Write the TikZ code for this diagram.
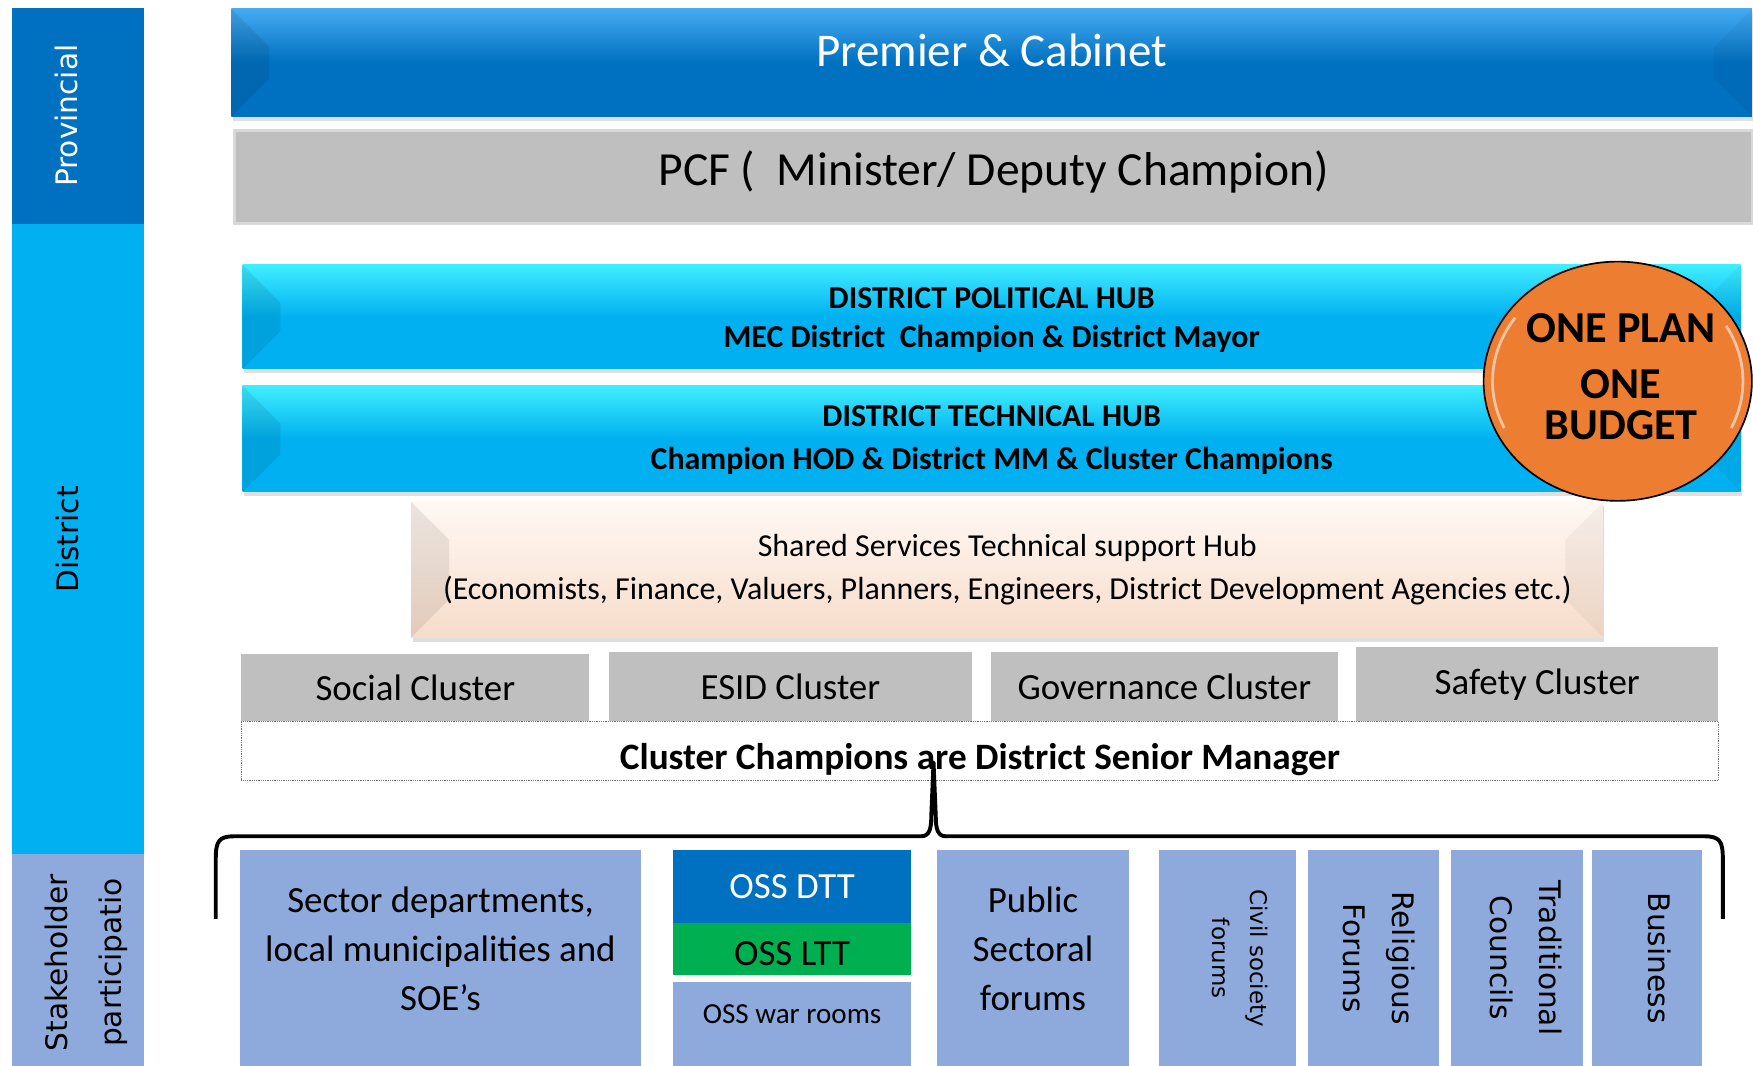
\documentclass[tikz,border=0pt]{standalone}
\usepackage{fontspec}
\setmainfont{Carlito}
\newfontfamily\vertfont{DejaVu Sans}
\usetikzlibrary{shapes.geometric,shadows,calc}

\definecolor{provblue}{HTML}{0070C0}
\definecolor{premtop}{HTML}{45ABF2}
\definecolor{distblue}{HTML}{00B0F0}
\definecolor{hubtop}{HTML}{40EEFF}
\definecolor{stakeblue}{HTML}{8EA9DB}
\definecolor{clgray}{HTML}{BFBFBF}
\definecolor{pcfedge}{HTML}{D9D9D9}
\definecolor{peach}{HTML}{F6DCCA}
\definecolor{peachtop}{HTML}{FFF8F3}
\definecolor{oporange}{HTML}{ED7D31}
\definecolor{lttgreen}{HTML}{00B050}

\newcommand{\fsz}[2]{\fontsize{#1pt}{#2pt}\selectfont}

\begin{document}
\begin{tikzpicture}[x=1pt,y=-1pt]
\tikzstyle{every node}+=[inner sep=0pt]
\tikzstyle{box}=[rectangle,anchor=center]
\tikzstyle{bar}=[box,drop shadow={shadow xshift=1pt,shadow yshift=-4pt,opacity=.25}]
\tikzstyle{side}=[rotate=90,font=\vertfont\fsz{26.5}{48},align=center]
\tikzstyle{cluster}=[box,fill=clgray,font=\fsz{33}{40}]
\tikzstyle{stake}=[box,fill=stakeblue]
\tikzstyle{forum}=[rotate=-90,font=\vertfont\fsz{26.5}{44},align=center]
\tikzstyle{txt}=[align=center]
\tikzstyle{brace}=[line width=3.5pt,line join=round]

\useasboundingbox (0,0) rectangle (1568,953);
\clip (0,0) rectangle (1568,953);

% left column
\node[box,fill=provblue,minimum width=118pt,minimum height=193pt] (prov) at (70,103.5) {};
\node[box,fill=distblue,minimum width=118pt,minimum height=565pt] (dist) at (70,482.5) {};
\node[box,fill=stakeblue,minimum width=118pt,minimum height=190pt] (stakecol) at (70,859) {};
\node[side,text=white] (provtxt) at ([xshift=-11pt]prov.center) {Provincial};
\node[side] (disttxt) at ([xshift=-10pt]dist.center) {District};
\node[side] (staketxt) at ([xshift=7pt,yshift=-2pt]stakecol.center) {Stakeholder\\participatio};

% provincial level
\node[bar,top color=premtop,bottom color=provblue,middle color=provblue,minimum width=1360pt,minimum height=96pt] (premier) at (887,56) {};
\node[box,fill=clgray,draw=pcfedge,line width=3pt,minimum width=1358pt,minimum height=83pt] (pcf) at (889,158.5) {};

% district hubs
\node[bar,top color=hubtop,bottom color=distblue,middle color=distblue,minimum width=1340pt,minimum height=93pt] (polhub) at (887,283.5) {};
\node[bar,top color=hubtop,bottom color=distblue,middle color=distblue,minimum width=1340pt,minimum height=95pt] (techhub) at (887,392.5) {};
\node[bar,top color=peachtop,bottom color=peach,minimum width=1066pt,minimum height=121pt,font=\fsz{28.6}{39},align=center] (shared) at (901,509.5) {Shared Services Technical support Hub\\(Economists, Finance, Valuers, Planners, Engineers, District Development Agencies etc.)};
\foreach \b in {premier,polhub,techhub,shared}{
  \fill[black,opacity=.08] (\b.north west) -- ++(34,34) -- ($(\b.south west)+(34,-34)$) -- (\b.south west) -- cycle;
  \fill[black,opacity=.04] (\b.north east) -- ++(-34,34) -- ($(\b.south east)+(-34,-34)$) -- (\b.south east) -- cycle;
}

\node[txt,text=white,font=\fsz{42}{50}] (premtxt) at ([yshift=11pt]premier.center) {Premier \& Cabinet};
\node[txt,font=\fsz{42.5}{50}] (pcftxt) at ([yshift=4.5pt]pcf.center) {PCF (\ \ Minister/ Deputy Champion)};
\node[txt,font=\bfseries\fsz{28.5}{35}] (poltxt) at ([yshift=-3pt]polhub.center) {DISTRICT POLITICAL HUB\\MEC District\ \ Champion \& District Mayor};
\node[txt,font=\bfseries\fsz{28.5}{38}] (techtxt) at ([yshift=-1pt]techhub.center) {DISTRICT TECHNICAL HUB\\Champion HOD \& District MM \& Cluster Champions};

\node[ellipse,draw=black,line width=1.5pt,fill=oporange,minimum width=240pt,minimum height=214pt] (oneplan) at (1447,341) {};
\draw[white,opacity=.55,line width=2.5pt] ($(oneplan.center)+(155:112 and 99)$) arc[start angle=155,end angle=215,x radius=112,y radius=99];
\draw[white,opacity=.55,line width=2.5pt] ($(oneplan.center)+(-30:112 and 99)$) arc[start angle=-30,end angle=25,x radius=112,y radius=99];
\node[txt,font=\bfseries\fsz{39.5}{37}] (oneplantxt) at ([xshift=3pt,yshift=4pt]oneplan.center) {ONE PLAN\\[13pt]ONE\\BUDGET};

% clusters
\node[cluster,minimum width=311pt,minimum height=60pt] (social) at (371.5,615) {Social Cluster};
\node[cluster,minimum width=324pt,minimum height=62pt] (esid) at (707,614) {ESID Cluster};
\node[cluster,minimum width=311pt,minimum height=62pt] (gov) at (1041.5,614) {Governance Cluster};
\node[cluster,minimum width=324pt,minimum height=66pt] (safety) at (1375,612) {Safety Cluster};
\node[box,fill=white,draw=black!55,densely dotted,line width=.6pt,minimum width=1321pt,minimum height=53pt] (champ) at (876.5,671.5) {};
\node[txt,font=\bfseries\fsz{33.3}{38}] (champtxt) at ([yshift=-7.5pt]champ.center) {Cluster Champions are District Senior Manager};

% brace
\coordinate (braceL) at (193,822);
\coordinate (braceR) at (1541,822);
\coordinate (tip) at (835,682);
\draw[brace] (braceL) -- (193,768) .. controls (193,752) and (196,748) .. (210,748)
  -- (824,748) .. controls (831,748) and (833,742) .. (833,730) -- (tip)
  -- (837,730) .. controls (837,742) and (839,748) .. (846,748)
  -- (1524,748) .. controls (1538,748) and (1541,752) .. (1541,768) -- (braceR);

% stakeholders
\node[stake,minimum width=358pt,minimum height=194pt] (sector) at (394,857) {};
\node[txt,font=\fsz{33}{44}] (sectortxt) at ([yshift=8.5pt]sector.center) {Sector departments,\\local municipalities and\\SOE’s};
\node[box,fill=provblue,text=white,minimum width=213pt,minimum height=66pt,font=\fsz{33}{40}] (dtt) at (708.5,793) {OSS DTT};
\node[box,fill=lttgreen,minimum width=213pt,minimum height=46pt] (ltt) at (708.5,849) {};
\node[txt,font=\fsz{33}{40}] (ltttxt) at ([yshift=-4pt]ltt.center) {OSS LTT};
\node[stake,minimum width=213pt,minimum height=76pt] (war) at (708.5,916) {};
\node[txt,font=\fsz{26}{30}] (wartxt) at ([yshift=9pt]war.center) {OSS war rooms};
\node[stake,minimum width=172pt,minimum height=194pt] (public) at (924,857) {};
\node[txt,font=\fsz{33}{44}] (publictxt) at ([yshift=8.5pt]public.center) {Public\\Sectoral\\forums};
\node[stake,minimum width=122pt,minimum height=194pt] (civil) at (1098,857) {};
\node[stake,minimum width=117pt,minimum height=194pt] (relig) at (1228.5,857) {};
\node[stake,minimum width=118pt,minimum height=194pt] (trad) at (1357,857) {};
\node[stake,minimum width=98pt,minimum height=194pt] (bus) at (1473,857) {};
\node[forum,font=\vertfont\fsz{20.5}{34}] (civiltxt) at ([xshift=11pt]civil.center) {Civil society\\forums};
\node[forum] (religtxt) at ([xshift=5pt]relig.center) {Religious\\Forums};
\node[forum] (tradtxt) at ([xshift=8pt]trad.center) {Traditional\\Councils};
\node[forum] (bustxt) at ([xshift=11pt]bus.center) {Business};
\end{tikzpicture}
\end{document}
